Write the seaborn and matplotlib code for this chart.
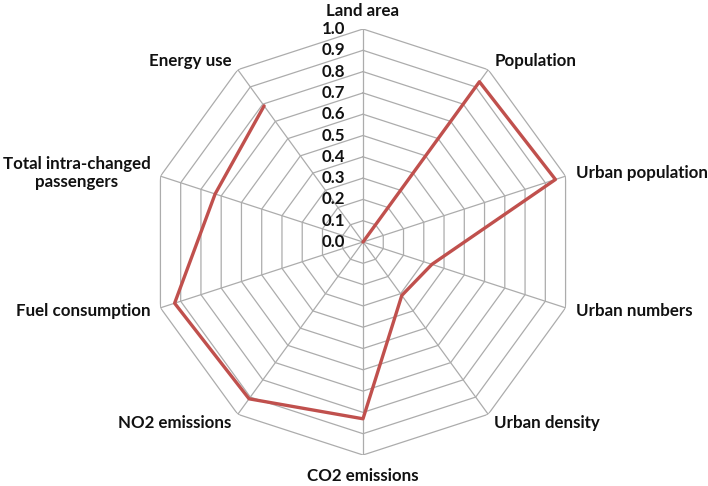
import numpy as np
import pandas as pd
import matplotlib
matplotlib.use("Agg")
import matplotlib.pyplot as plt
import seaborn as sns
from matplotlib.transforms import offset_copy

categories = ["Land area", "Population", "Urban population", "Urban numbers",
              "Urban density", "CO2 emissions", "NO2 emissions", "Fuel consumption",
              "Total intra-changed\npassengers", "Energy use"]
values = [0.0, 0.93, 0.95, 0.34, 0.31, 0.83, 0.91, 0.93, 0.73, 0.79]
tick_levels = [0.0, 0.1, 0.2, 0.3, 0.4, 0.5, 0.6, 0.7, 0.8, 0.9, 1.0]
tick_labels = ["0.0", "0.1", "0.2", "0.3", "0.4", "0.5", "0.6", "0.7", "0.8", "0.9", "1.0"]

sns.set_theme(style="white")
plt.rcParams['font.family'] = ['Lato', 'DejaVu Sans']

W, H = 708, 486
fig = plt.figure(figsize=(W / 100, H / 100), dpi=100)
cx, cy, R = 363, 242, 213
ax = fig.add_axes([(cx - R) / W, (H - cy - R) / H, 2 * R / W, 2 * R / H], projection='polar')
ax.set_theta_zero_location('N')
ax.set_theta_direction(-1)

n = len(categories)
angles = np.arange(n) * 2 * np.pi / n
closed = np.append(angles, angles[0])

grid_color = '#acacac'
for lv in tick_levels[1:]:
    ax.plot(closed, [lv] * (n + 1), color=grid_color, lw=0.9, zorder=1)
for a in angles:
    ax.plot([a, a], [0, 1], color=grid_color, lw=0.9, zorder=1)

df = pd.DataFrame({"theta": closed, "value": values + [values[0]]})
sns.lineplot(data=df, x="theta", y="value", sort=False, color="#C0504D",
             lw=2.4, ax=ax, zorder=3)

ax.set_ylim(0, 1)
ax.set_xticks([])
ax.set_yticks([])
ax.grid(False)
ax.spines['polar'].set_visible(False)
ax.set_xlabel('')
ax.set_ylabel('')
ax.patch.set_alpha(0)

lab_kw = dict(fontsize=12.2, fontweight='bold', color='#111111')
for a, cat in zip(angles, categories):
    deg = np.degrees(a) % 360
    if np.isclose(deg, 0):
        ax.text(a, 1.085, cat, ha='center', va='center', **lab_kw)
    elif np.isclose(deg, 180):
        ax.text(a, 1.10, cat, ha='center', va='center', **lab_kw)
    elif deg < 180:
        ax.text(a, 1.05, cat, ha='left', va='center', **lab_kw)
    else:
        ax.text(a, 1.05, cat, ha='right', va='center', multialignment='center',
                linespacing=1.2, **lab_kw)

tr = offset_copy(ax.transData, fig=fig, x=-18, y=0, units='dots')
for lv, tl in zip(tick_levels, tick_labels):
    ax.text(0, lv, tl, transform=tr, ha='right', va='center', **lab_kw)

fig.savefig("out.png", dpi=100)
